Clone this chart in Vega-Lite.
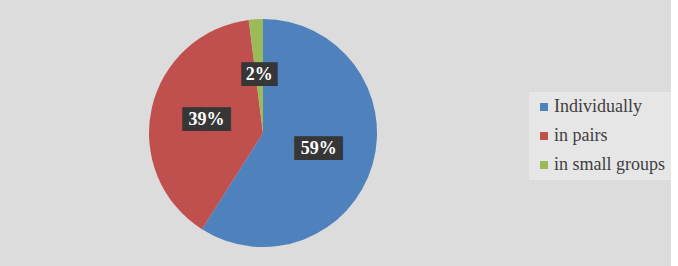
{
  "$schema": "https://vega.github.io/schema/vega-lite/v6.json",
  "width": 526,
  "height": 266,
  "padding": 0,
  "autosize": {"type": "pad"},
  "background": "#dcdcdc",
  "config": {"view": {"stroke": null}},
  "data": {"values": [
    {"cat": "Individually", "value": 59, "ord": 1, "label": "59%"},
    {"cat": "in pairs", "value": 39, "ord": 2, "label": "39%"},
    {"cat": "in small groups", "value": 2, "ord": 3, "label": "2%"}
  ]},
  "encoding": {
    "theta": {"field": "value", "type": "quantitative", "stack": true},
    "order": {"field": "ord", "type": "quantitative"}
  },
  "layer": [
    {
      "mark": {"type": "arc", "outerRadius": 114},
      "encoding": {
        "color": {
          "field": "cat", "type": "nominal",
          "scale": {"domain": ["Individually", "in pairs", "in small groups"], "range": ["#4f81bd", "#c0504d", "#9bbb59"]},
          "legend": {
            "orient": "none", "legendX": 529, "legendY": 92,
            "title": null, "symbolType": "square", "symbolSize": 64,
            "labelFont": "Liberation Serif, Times New Roman, serif", "labelFontSize": 18, "labelColor": "#404040",
            "fillColor": "#e6e6e6", "padding": 6, "rowPadding": 11, "labelOffset": 1,
            "symbolStrokeWidth": 0
          }
        }
      }
    },
    {
      "mark": {"type": "text", "radius": 58, "font": "DejaVu Sans Mono", "fontSize": 20, "baseline": "middle"},
      "encoding": {
        "text": {"condition": {"test": "datum.ord == 3", "value": "███"}, "value": "████"},
        "color": {"value": "#363636"}
      }
    },
    {
      "mark": {"type": "text", "radius": 58, "font": "Liberation Serif, Times New Roman, serif", "fontSize": 18, "fontWeight": "bold", "baseline": "middle"},
      "encoding": {"text": {"field": "label"}, "color": {"value": "#ffffff"}}
    }
  ]
}
